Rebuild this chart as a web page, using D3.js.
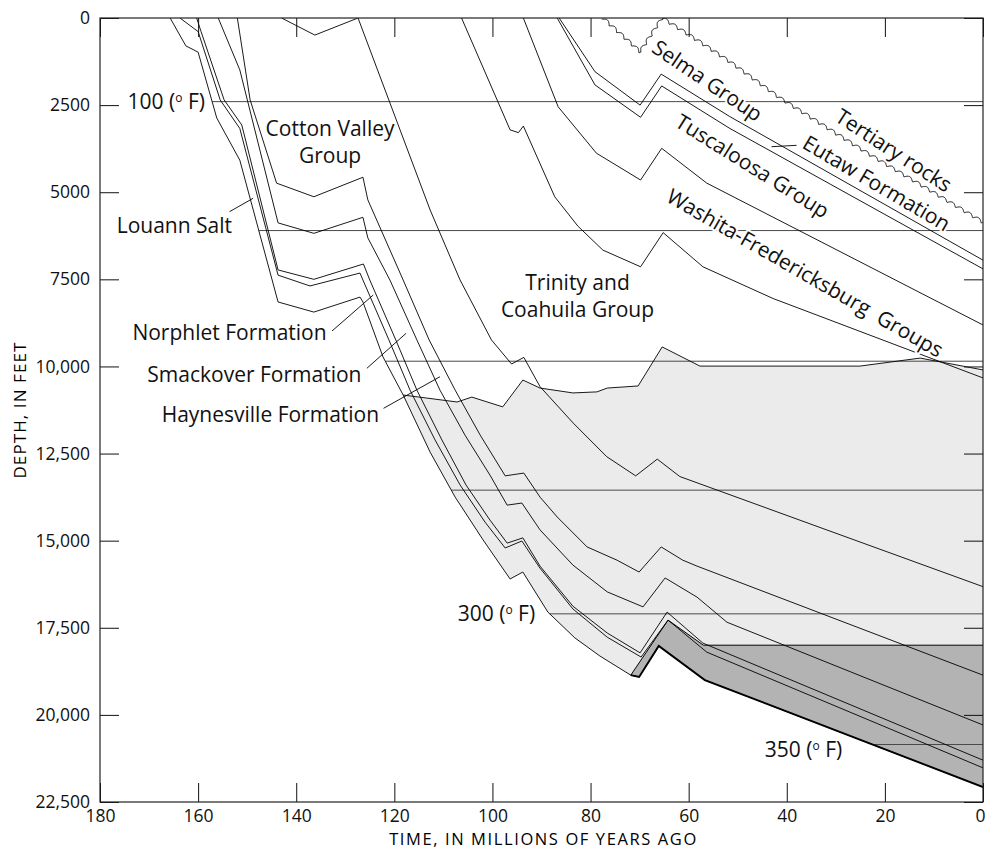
<!DOCTYPE html>
<html><head><meta charset="utf-8">
<script src="https://cdn.jsdelivr.net/npm/d3@7"></script>
<style>
html,body{margin:0;padding:0;background:#fff;}
svg{display:block;font-family:"Open Sans",sans-serif;}
text{white-space:pre;}
</style></head><body>
<svg id="chart" width="987" height="850"></svg>
<script>
// ---- DATA: burial-history surfaces, [time (Ma), depth (ft)] ----
const baseLouann = [[165.7,0],[162.5,800],[160.0,980],[156.2,2870],[151.5,4080],[143.7,8150],[136.4,8440],[127.0,8010],[126.4,8150],[122.3,9730],[118.2,10820],[112.7,12460],[107.6,13750],[101.9,14980],[96.4,16100],[93.8,15900],[88.7,17050],[83.2,17790],[78.1,18310],[71.8,18860],[70.1,18910],[66.1,18020],[56.7,19000],[0,22070]];
const topLouann = [[163.7,0],[160.0,390],[155.5,2350],[151.5,3170],[143.7,7380],[137.2,7690],[127.0,7320],[126.4,7520],[121.1,9240],[116.8,10680],[111.7,12110],[106.6,13400],[101.5,14470],[97.4,15210],[94.0,15010],[90.3,15790],[83.6,16960],[76.6,17770],[69.7,18340],[64.2,17280],[56.3,18200],[0,21520]];
const topNorphlet = [[160.3,0],[159.4,390],[154.7,2350],[151.1,3070],[143.7,7230],[136.4,7500],[126.3,7060],[125.0,7520],[119.7,9240],[115.4,10680],[110.3,12110],[105.4,13400],[100.5,14410],[97.0,15070],[93.8,14920],[90.3,15730],[83.6,16880],[76.6,17650],[69.9,18220],[64.4,17050],[57.1,17940],[0,21300]];
const topSmackover = [[155.9,0],[151.5,1490],[143.7,5880],[136.4,6180],[126.4,5720],[125.4,6310],[120.9,7520],[115.4,9240],[110.7,10680],[105.6,11970],[100.5,13120],[97.0,13980],[94.0,13920],[90.3,14690],[83.6,15700],[76.6,16470],[69.3,16900],[64.8,16070],[58.3,16620],[52.2,17340],[0,20290]];
const topHaynesville = [[152.0,0],[149.4,2350],[144.0,4740],[136.4,5130],[126.4,4570],[125.4,5220],[118.2,7520],[112.9,9240],[107.6,10680],[102.5,11970],[97.4,13140],[93.6,13060],[90.3,13750],[86.8,14320],[80.7,15180],[74.6,15560],[70.1,15900],[65.6,15180],[61.2,15560],[58.3,15730],[0,18860]];
const topCottonValley = [[143.0,0],[136.2,490],[127.4,0],[112.7,5510],[106.6,7520],[100.2,9240],[96.1,9930],[93.6,9740],[90.3,10580],[83.5,11630],[76.7,12590],[70.8,13140],[66.4,12660],[61.8,13160],[0,16320]];
const topTrinity = [[106.3,0],[96.4,3210],[94.7,3290],[93.7,3100],[87.3,5130],[82.6,5970],[77.5,6660],[69.8,7140],[65.2,6160],[57.1,7140],[42.8,8050],[0,10330]];
const topWashita = [[93.7,0],[86.6,2550],[78.8,3880],[69.8,4650],[65.5,3740],[56.3,4740],[0,8810]];
const topTuscaloosa = [[86.8,0],[79.1,1920],[69.8,2850],[65.5,1950],[51.6,3170],[0,7200]];
const topEutaw = [[86.4,0],[79.1,1540],[69.9,2500],[65.6,1610],[51.6,2830],[0,6950]];
const topSelma = [[77.5,0],[69.9,970],[65.4,0],[57.7,690],[51.6,1260],[41.4,2300],[23.6,3880],[0,5860]];
// shaded zones
const lightZoneTop = [[118.2,10820],[107.2,11020],[104.2,10880],[97.9,11160],[93.8,10390],[90.3,10620],[83.6,10760],[78.7,10730],[76.6,10620],[70.3,10560],[65.4,9440],[57.7,9990],[25.1,9990],[12.8,9760],[0,10100]];
const darkZoneTop = [[71.8,18860],[64.2,17280],[57.0,18000],[0,18000]];
// isotherms
const isothermDepths = [2400, 6100, 9850, 13550, 17100, 20850];
const isothermTemps = [100, 150, 200, 250, 300, 350];
// axes
const timeTicks = [180,160,140,120,100,80,60,40,20,0];
const depthTicks = [0,2500,5000,7500,10000,12500,15000,17500,20000,22500];
// annotations (data coordinates)
const labels = [
  {text:"Cotton Valley", t:133.1, d:3380, anchor:"middle"},
  {text:"Group", t:133.1, d:4150, anchor:"middle"},
  {text:"Louann Salt", t:176.6, d:6179, anchor:"start"},
  {text:"Norphlet Formation", t:133.8, d:9241, anchor:"end"},
  {text:"Smackover Formation", t:126.7, d:10438, anchor:"end"},
  {text:"Haynesville Formation", t:123.1, d:11586, anchor:"end"},
  {text:"Trinity and", t:82.66, d:7800, anchor:"middle"},
  {text:"Coahuila Group", t:82.66, d:8580, anchor:"middle"}
];
const rotLabels = [
  {text:"Selma Group", t:56.2, d:1800, rot:34},
  {text:"Tuscaloosa Group", t:47.0, d:4250, rot:32},
  {text:"Eutaw Formation", t:21.7, d:4744, rot:30.5},
  {text:"Tertiary rocks", t:18.2, d:3800, rot:33},
  {text:"Washita-Fredericksburg  Groups", t:36.3, d:7318, rot:30}
];
const leaders = [
  [153.6,5559,148.8,5175],
  [132.7,8983,124.3,7950],
  [125.6,10054,117.6,9049],
  [122.2,11202,110.7,10295],
  [43.1,3694,38.0,3654]
];
const tempLabels = [
  {temp:100, t:158.6, d:2400},
  {temp:300, t:91.3, d:17100},
  {temp:350, t:28.7, d:21000}
];

// ---- CHART ----
const svg = d3.select("#chart");
const x = d3.scaleLinear().domain([180,0]).range([100,983]);
const y = d3.scaleLinear().domain([0,22500]).range([18,802]);
const line = d3.line().x(p=>x(p[0])).y(p=>y(p[1]));

svg.append("defs").append("clipPath").attr("id","plot")
  .append("rect").attr("x",x(180)).attr("y",y(0)).attr("width",x(0)-x(180)).attr("height",y(22500)-y(0));
const g = svg.append("g").attr("clip-path","url(#plot)");

// zones
const lightPoly = lightZoneTop.concat(darkZoneTop.slice().reverse(),
  baseLouann.filter(p=>p[0]>71.8 && p[0]<118.2).reverse());
const darkPoly = darkZoneTop.concat(baseLouann.filter(p=>p[0]<71.8).reverse());
g.append("path").attr("d", line(lightPoly)+"Z").attr("fill","#ebebeb");
g.append("path").attr("d", line(darkPoly)+"Z").attr("fill","#b3b3b3");

// isotherms
function firstCrossing(ln, depth){
  for(let i=0;i<ln.length-1;i++){
    const a=ln[i], b=ln[i+1];
    if((a[1]-depth)*(b[1]-depth)<=0 && a[1]!==b[1]){
      return a[0]+(depth-a[1])/(b[1]-a[1])*(b[0]-a[0]);
    }
  }
  return 180;
}
isothermDepths.forEach(dep=>{
  const t0 = firstCrossing(baseLouann, dep);
  g.append("path").attr("d", line([[t0,dep],[0,dep]]))
    .attr("stroke","#4a4a4a").attr("stroke-width",1).attr("fill","none");
});

// zone boundaries
g.append("path").attr("d", line(lightZoneTop)).attr("fill","none").attr("stroke","#000").attr("stroke-width",0.9);
g.append("path").attr("d", line(darkZoneTop)).attr("fill","none").attr("stroke","#000").attr("stroke-width",1);

// formation surfaces
[baseLouann, topLouann, topNorphlet, topSmackover, topHaynesville, topCottonValley,
 topTrinity, topWashita, topTuscaloosa, topEutaw].forEach(ln=>{
  g.append("path").attr("d", line(ln)).attr("fill","none").attr("stroke","#000").attr("stroke-width",0.9);
});
g.append("path").attr("d", line(baseLouann.filter(p=>p[0]<=71.8)))
  .attr("fill","none").attr("stroke","#000").attr("stroke-width",1.9);

// unconformity (scalloped)
function wavyPath(pts, amp, period){
  const out=[]; let s=0;
  for(let i=0;i<pts.length-1;i++){
    const [x0,y0]=pts[i],[x1,y1]=pts[i+1];
    const L=Math.hypot(x1-x0,y1-y0); if(L===0) continue;
    const ux=(x1-x0)/L, uy=(y1-y0)/L, nx=-uy, ny=ux;
    const n=Math.max(2,Math.ceil(L/0.5));
    for(let k=(i===0?0:1);k<=n;k++){
      const f=k/n, ss=s+f*L;
      const off=amp*(0.5-Math.abs(Math.sin(Math.PI*ss/period)));
      out.push([x0+ux*f*L+nx*off, y0+uy*f*L+ny*off]);
    }
    s+=L;
  }
  return d3.line()(out);
}
g.append("path").attr("d", wavyPath(topSelma.map(p=>[x(p[0]),y(p[1])]),3.2,10))
  .attr("fill","none").attr("stroke","#000").attr("stroke-width",0.9);

// leaders
leaders.forEach(l=>{
  svg.append("line").attr("x1",x(l[0])).attr("y1",y(l[1])).attr("x2",x(l[2])).attr("y2",y(l[3]))
    .attr("stroke","#000").attr("stroke-width",0.9);
});

// axes
const fmt = v => v>=10000 ? d3.format(",")(v) : String(v);
function styleAxis(sel){
  sel.select(".domain").remove();
  sel.selectAll(".tick line").attr("stroke","#111").attr("stroke-width",1);
  sel.selectAll(".tick text").attr("fill","#111");
  sel.attr("font-family","Open Sans").attr("font-size",17.5);
}
svg.append("g").attr("transform",`translate(${x(180)},0)`)
  .call(d3.axisLeft(y).tickValues(depthTicks).tickSize(-19).tickPadding(10).tickFormat(fmt)).call(styleAxis);
svg.append("g").attr("transform",`translate(${x(0)},0)`)
  .call(d3.axisRight(y).tickValues(depthTicks).tickSize(-19).tickFormat("")).call(styleAxis);
const xb = svg.append("g").attr("transform",`translate(0,${y(22500)})`)
  .call(d3.axisBottom(x).tickValues(timeTicks).tickSize(-19).tickPadding(8)).call(styleAxis);
xb.selectAll(".tick text").filter(d=>d===0).attr("dx",-3);
svg.append("g").attr("transform",`translate(0,${y(0)})`)
  .call(d3.axisTop(x).tickValues(timeTicks).tickSize(-19).tickFormat("")).call(styleAxis);
svg.append("rect").attr("x",x(180)).attr("y",y(0)).attr("width",x(0)-x(180)).attr("height",y(22500)-y(0))
  .attr("fill","none").attr("stroke","#222").attr("stroke-width",1.2);

svg.append("text").attr("transform",`translate(26,${(y(0)+y(22500))/2}) rotate(-90)`)
  .attr("text-anchor","middle").attr("font-size",17).attr("letter-spacing",1.1).text("DEPTH, IN FEET");
svg.append("text").attr("x",(x(180)+x(0))/2+2).attr("y",845)
  .attr("text-anchor","middle").attr("font-size",16.5).attr("letter-spacing",1.6).text("TIME, IN MILLIONS OF YEARS AGO");

// labels
const FS = 21;
function halo(sel){ return sel.attr("stroke","#fff").attr("stroke-width",4).attr("stroke-linejoin","round").attr("paint-order","stroke"); }
labels.forEach(l=>{
  svg.append("text").attr("x",x(l.t)).attr("y",y(l.d)).attr("text-anchor",l.anchor)
    .attr("font-size",FS).attr("fill","#111").text(l.text).call(halo);
});
rotLabels.forEach(l=>{
  svg.append("text").attr("transform",`translate(${x(l.t)},${y(l.d)}) rotate(${l.rot})`)
    .attr("text-anchor","middle").attr("dy","0.35em")
    .attr("font-size",FS).attr("fill","#111").text(l.text).call(halo);
});
tempLabels.forEach(l=>{
  const t = svg.append("text").attr("x",x(l.t)).attr("y",y(l.d)).attr("dy","0.35em")
    .attr("text-anchor","end").attr("font-size",FS).attr("fill","#111").call(halo);
  t.append("tspan").text(l.temp+" (");
  t.append("tspan").attr("font-size",12).attr("dy",-7).text("o");
  t.append("tspan").attr("dy",7).text(" F)");
});
</script>
</body></html>
